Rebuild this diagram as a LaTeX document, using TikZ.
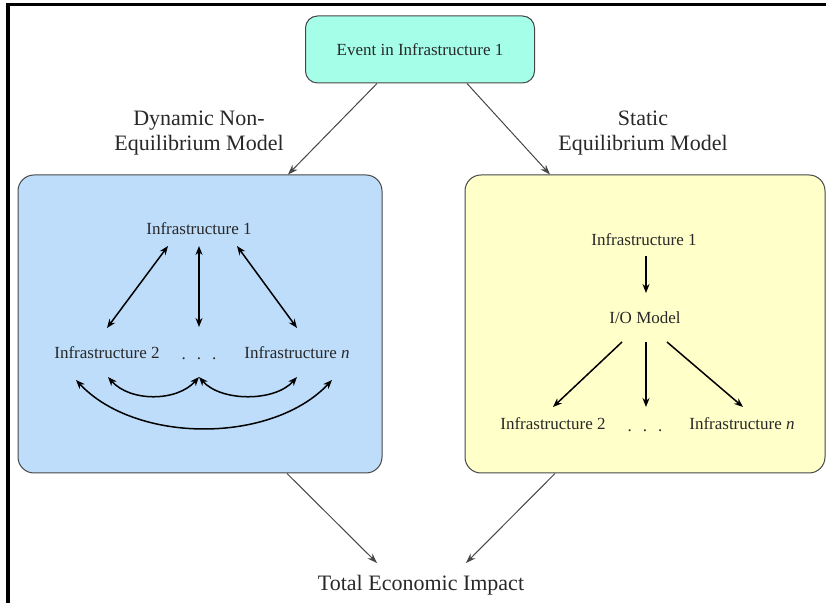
\documentclass[tikz,border=0pt]{standalone}
\usepackage{fontspec}
\setmainfont{Liberation Serif}
\usepackage{xcolor}
\definecolor{eventFill}{RGB}{165,255,232}
\definecolor{dynFill}{RGB}{190,221,250}
\definecolor{statFill}{RGB}{255,255,202}
\definecolor{edgeGray}{RGB}{70,70,70}
\definecolor{txtGray}{RGB}{40,40,40}
\usetikzlibrary{arrows.meta, calc, positioning}

\begin{document}
\begin{tikzpicture}[
  x=0.5pt, y=-0.5pt,
  evbox/.style={rectangle, rounded corners=6pt, draw=edgeGray, line width=0.5pt, fill=eventFill,
               minimum width=114.5pt, minimum height=33.5pt, text=txtGray, font=\fontsize{8.5}{10}\selectfont},
  modelbox/.style={rectangle, rounded corners=8pt, draw=edgeGray, line width=0.5pt, minimum height=149pt},
  infra/.style={inner sep=0pt, text=txtGray, font=\fontsize{8.5}{10}\selectfont},
  lbl/.style={inner sep=0pt, align=center, text=txtGray, font=\fontsize{11}{12.5}\selectfont},
  thinarr/.style={-{Stealth[length=5pt,width=3.5pt]}, line width=0.5pt, draw=edgeGray},
  arr/.style={-{Stealth[length=4.5pt,width=3.5pt]}, line width=0.75pt},
  biarr/.style={{Stealth[length=4.5pt,width=3.5pt]}-{Stealth[length=4.5pt,width=3.5pt]}, line width=0.75pt}
]
  \useasboundingbox (0,0) rectangle (826,603);
  \draw[line width=1.6pt] (8,603) -- (8,4.5) -- (826,4.5);

  % top event and the two models
  \node[evbox] (event) at (420,49.5) {Event in Infrastructure 1};
  \node[modelbox, fill=dynFill, minimum width=182pt] (dyn) at (200,324) {};
  \node[modelbox, fill=statFill, minimum width=180pt] (stat) at (645,324) {};

  \node[lbl] (dynlbl) at (199,133) {Dynamic Non-\\Equilibrium Model};
  \node[lbl] (statlbl) at (643,133) {Static\\Equilibrium Model};
  \node[lbl] (total) at (421,585) {Total Economic Impact};

  \draw[thinarr] ($(event.south)+(-43,0)$) -- ($(dyn.north)+(88,0)$);
  \draw[thinarr] ($(event.south)+(47,0)$) -- ($(stat.north)+(-95,0)$);
  \draw[thinarr] ($(dyn.south)+(87,0)$) -- ($(total)+(-44,-22)$);
  \draw[thinarr] ($(stat.south)+(-90,0)$) -- ($(total)+(45,-22)$);

  % dynamic non-equilibrium model
  \node[infra] (d1) at (199,229) {Infrastructure 1};
  \node[infra] (d2) at (107,353) {Infrastructure 2};
  \node[infra] (dn) at (297,353) {Infrastructure \textit{n}};
  \node[infra] (ddots) at (199,359) {.\hspace{5.5pt}.\hspace{5.5pt}.};

  \draw[biarr] ($(d1)+(-31,17)$) -- ($(d2)+(0,-25)$);
  \draw[biarr] ($(d1)+(0,17)$) -- ($(ddots)+(0,-32)$);
  \draw[biarr] ($(d1)+(38,17)$) -- ($(dn)+(0,-25)$);
  \draw[biarr] ($(d2)+(1,24)$) .. controls +(22,25) and +(-22,25) .. ($(ddots)+(0,18)$);
  \draw[biarr] ($(ddots)+(0,18)$) .. controls +(22,25) and +(-22,25) .. ($(dn)+(0,24)$);
  \draw[biarr] ($(d2)+(-31,27)$) .. controls +(60,64) and +(-60,64) .. ($(dn)+(35,27)$);

  % static equilibrium model
  \node[infra] (s1) at (644,240) {Infrastructure 1};
  \node[infra] (io) at (645,318) {I/O Model};
  \node[infra] (s2) at (553,424) {Infrastructure 2};
  \node[infra] (sn) at (742,424) {Infrastructure \textit{n}};
  \node[infra] (sdots) at (645,431) {.\hspace{5.5pt}.\hspace{5.5pt}.};

  \draw[arr] ($(s1)+(2,16)$) -- ($(io)+(1,-25)$);
  \draw[arr] ($(io)+(-23,24)$) -- ($(s2)+(0,-17)$);
  \draw[arr] ($(io)+(1,24)$) -- ($(sdots)+(1,-24)$);
  \draw[arr] ($(io)+(22,24)$) -- ($(sn)+(1,-17)$);
\end{tikzpicture}
\end{document}
